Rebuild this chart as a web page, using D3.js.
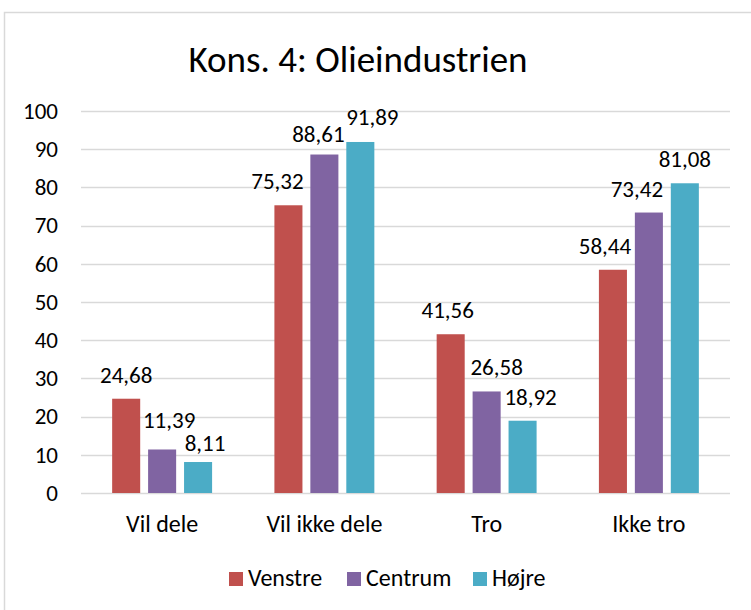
<!DOCTYPE html>
<html>
<head>
<meta charset="utf-8">
<script src="https://cdn.jsdelivr.net/npm/d3@7"></script>
<style>
  body { margin: 0; background: #fff; }
  svg text { font-family: Carlito, Calibri, Lato, sans-serif; fill: #000; }
  .axis path, .axis line { display: none; }
</style>
</head>
<body>
<div id="canvas"></div>
<script>
var categories = ["Vil dele", "Vil ikke dele", "Tro", "Ikke tro"];
var seriesNames = ["Venstre", "Centrum", "Højre"];
var venstre = [24.68, 75.32, 41.56, 58.44];
var centrum = [11.39, 88.61, 26.58, 73.42];
var hojre = [8.11, 91.89, 18.92, 81.08];
var yTicks = [0, 10, 20, 30, 40, 50, 60, 70, 80, 90, 100];
var colors = ["#C0504D", "#8064A2", "#4BACC6"];

var values = [venstre, centrum, hojre];

// Excel pushed some labels aside to keep them apart ([dx, dy] px, per category / series)
var labelNudge = [
  [[0, 0], [7, -5], [7, 5]],
  [[-11, 0], [-6, 3], [12, -1]],
  [[-3, 0], [10, 0], [8, 0]],
  [[-8, 0], [-12, 0], [0, 0]]
];

var width = 751, height = 610;
var margin = {top: 111, right: 21, bottom: 117, left: 81};

var svg = d3.select("#canvas").append("svg")
    .attr("width", width)
    .attr("height", height);

// chart frame (runs off the right/bottom edge like the screenshot)
svg.append("rect")
    .attr("x", 4.5).attr("y", 12.5)
    .attr("width", width + 20).attr("height", height + 20)
    .attr("fill", "none")
    .attr("stroke", "#D9D9D9")
    .attr("stroke-width", 1.5);

var x0 = d3.scaleBand()
    .domain(categories)
    .range([margin.left, width - margin.right])
    .paddingInner(0.384)
    .paddingOuter(0.192);

var x1 = d3.scaleBand()
    .domain(seriesNames)
    .range([0, x0.bandwidth()])
    .paddingInner(0.22);

var y = d3.scaleLinear()
    .domain([0, 100])
    .range([height - margin.bottom, margin.top]);

// gridlines
svg.append("g")
  .selectAll("line")
  .data(yTicks)
  .join("line")
    .attr("x1", margin.left)
    .attr("x2", width - margin.right)
    .attr("y1", d => Math.round(y(d)) + 0.5)
    .attr("y2", d => Math.round(y(d)) + 0.5)
    .attr("stroke", "#D9D9D9")
    .attr("stroke-width", 1.5);

// y axis labels
svg.append("g")
    .attr("class", "axis")
    .attr("transform", "translate(" + (margin.left - 11) + ",0)")
    .call(d3.axisLeft(y).tickValues(yTicks).tickSize(0).tickPadding(12))
    .selectAll("text")
    .style("font-size", "23px");

// x axis labels
svg.append("g")
    .attr("class", "axis")
    .attr("transform", "translate(0," + (height - margin.bottom) + ")")
    .call(d3.axisBottom(x0).tickSize(0).tickPadding(22))
    .selectAll("text")
    .style("font-size", "24px");

// bars
var groups = svg.append("g")
  .selectAll("g")
  .data(categories)
  .join("g")
    .attr("transform", d => "translate(" + x0(d) + ",0)");

var bars = groups.selectAll("g")
  .data((c, i) => seriesNames.map((s, j) => ({
      series: s, value: values[j][i], color: colors[j], nudge: labelNudge[i][j]
  })))
  .join("g");

bars.append("rect")
    .attr("x", d => x1(d.series))
    .attr("y", d => y(d.value))
    .attr("width", x1.bandwidth())
    .attr("height", d => y(0) - y(d.value))
    .attr("fill", d => d.color);

bars.append("text")
    .attr("x", d => x1(d.series) + x1.bandwidth() / 2 + d.nudge[0])
    .attr("y", d => y(d.value) - 16 + d.nudge[1])
    .attr("text-anchor", "middle")
    .style("font-size", "23px")
    .text(d => d3.format(".2f")(d.value).replace(".", ","));

// title
svg.append("text")
    .attr("x", 358)
    .attr("y", 72)
    .attr("text-anchor", "middle")
    .style("font-size", "37px")
    .text("Kons. 4: Olieindustrien");

// legend
var legendX = [229, 347, 473];
var legend = svg.append("g")
  .selectAll("g")
  .data(seriesNames)
  .join("g")
    .attr("transform", (d, i) => "translate(" + legendX[i] + ",572)");

legend.append("rect")
    .attr("width", 14)
    .attr("height", 14)
    .attr("fill", (d, i) => colors[i]);

legend.append("text")
    .attr("x", 19)
    .attr("y", 14)
    .style("font-size", "24px")
    .text(d => d);
</script>
</body>
</html>
